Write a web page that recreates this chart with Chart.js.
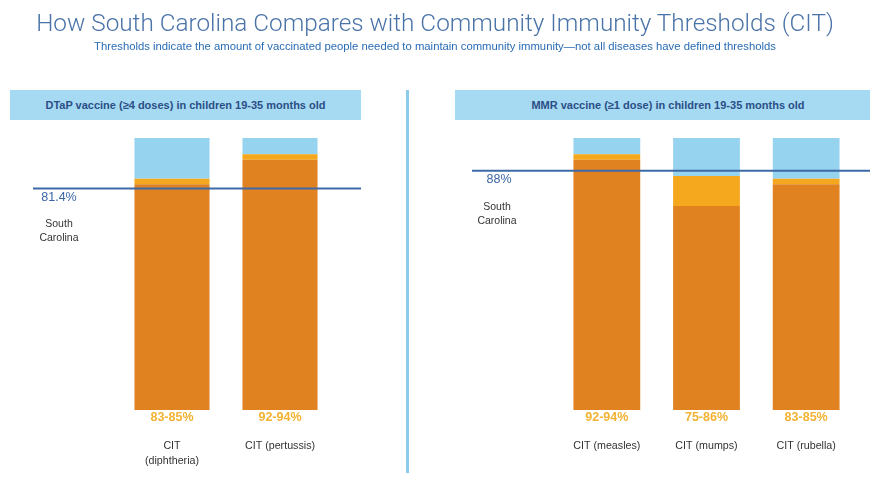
<!DOCTYPE html>
<html>
<head>
<meta charset="utf-8">
<script src="https://cdn.jsdelivr.net/npm/chart.js@4"></script>
<style>
  html, body { margin: 0; padding: 0; background: #ffffff; }
  #wrap { position: relative; width: 870px; height: 479px; overflow: hidden; font-family: "Liberation Sans", Arial, sans-serif; }
  #title { position: absolute; left: 0; top: 8px; width: 870px; text-align: center; font-family: Roboto, sans-serif; font-weight: 300; font-size: 24.3px; color: #4a73a8; }
  #subtitle { position: absolute; left: 0; top: 40px; width: 870px; text-align: center; font-size: 11.3px; color: #2a6cb5; }
  .head { position: absolute; top: 90px; height: 30px; line-height: 30px; background: #a6d9f2; text-align: center; font-weight: bold; font-size: 11px; color: #2b4f86; box-sizing: border-box; }
  #divider { position: absolute; left: 406px; top: 90px; width: 3px; height: 383px; background: #8ccbec; }
  canvas { position: absolute; top: 0; }
</style>
</head>
<body>
<div id="wrap">
  <canvas id="leftChart" style="left:0" width="406" height="479"></canvas>
  <canvas id="rightChart" style="left:409px" width="461" height="479"></canvas>
  <div id="title">How South Carolina Compares with Community Immunity Thresholds (CIT)</div>
  <div id="subtitle">Thresholds indicate the amount of vaccinated people needed to maintain community immunity—not all diseases have defined thresholds</div>
  <div class="head" style="left:10px;width:351px">DTaP vaccine (≥4 doses) in children 19-35 months old</div>
  <div class="head" style="left:455px;width:415px;padding-left:11px">MMR vaccine (≥1 dose) in children 19-35 months old</div>
  <div id="divider"></div>
</div>
<script>
// DTaP panel
const dtapLabels = [["CIT", "(diphtheria)"], ["CIT (pertussis)"]];
const dtapLow = [83, 92];
const dtapHigh = [85, 94];
const dtapState = 81.4;

// MMR panel
const mmrLabels = [["CIT (measles)"], ["CIT (mumps)"], ["CIT (rubella)"]];
const mmrLow = [92, 75, 83];
const mmrHigh = [94, 86, 85];
const mmrState = 88;

const ORANGE = "#e0821f";
const YELLOW = "#f5a81d";
const SKY = "#96d3ef";

Chart.defaults.font.family = "'Liberation Sans', Arial, sans-serif";
Chart.defaults.animation = false;

// threshold line + range labels + category labels
const annotate = {
    id: "annotate",
    afterDatasetsDraw(chart, args, opts) {
        const c = chart.ctx;
        const x = chart.scales.x, y = chart.scales.y;
        const yLine = y.getPixelForValue(opts.state);

        c.save();
        c.strokeStyle = "#3d6aa6";
        c.lineWidth = 2;
        c.beginPath();
        c.moveTo(opts.lineFrom, yLine);
        c.lineTo(opts.lineTo, yLine);
        c.stroke();

        c.textAlign = "center";
        c.textBaseline = "middle";
        c.fillStyle = "#3a66a6";
        c.font = "12.5px 'Liberation Sans', Arial, sans-serif";
        c.fillText(opts.stateText, opts.labelX, yLine + 9);
        c.fillStyle = "#333333";
        c.font = "10.5px 'Liberation Sans', Arial, sans-serif";
        c.fillText("South", opts.nameX, yLine + 36);
        c.fillText("Carolina", opts.nameX, yLine + 50);

        const base = y.getPixelForValue(0);
        opts.low.forEach((lo, i) => {
            const cx = x.getPixelForValue(i);
            c.fillStyle = "#f3b232";
            c.font = "bold 12.5px 'Liberation Sans', Arial, sans-serif";
            c.fillText(lo + "-" + opts.high[i] + "%", cx, base + 8);
            c.fillStyle = "#333333";
            c.font = "10.7px 'Liberation Sans', Arial, sans-serif";
            opts.labels[i].forEach((ln, k) => c.fillText(ln, cx, base + 36 + k * 15));
        });
        c.restore();
    }
};

function makeChart(id, labels, low, high, state, barPct, pad, lineOpts) {
    const mid = high.map((h, i) => h - low[i]);
    const rest = high.map(h => 100 - h);
    return new Chart(document.getElementById(id), {
        type: "bar",
        data: {
            labels: labels.map(l => l.join(" ")),
            datasets: [
                { data: low, backgroundColor: ORANGE },
                { data: mid, backgroundColor: YELLOW },
                { data: rest, backgroundColor: SKY }
            ]
        },
        options: {
            responsive: false,
            layout: { padding: pad },
            datasets: { bar: { categoryPercentage: 1, barPercentage: barPct, borderWidth: 0 } },
            scales: {
                x: { stacked: true, display: false },
                y: { stacked: true, display: false, min: 0, max: 100 }
            },
            plugins: {
                legend: { display: false },
                tooltip: { enabled: false },
                annotate: Object.assign({ state, low, high, labels }, lineOpts)
            }
        },
        plugins: [annotate]
    });
}

makeChart("leftChart", dtapLabels, dtapLow, dtapHigh, dtapState, 0.695,
    { left: 118, right: 72, top: 138, bottom: 69 },
    { lineFrom: 33, lineTo: 361, labelX: 59, nameX: 59, stateText: dtapState + "%" });

makeChart("rightChart", mmrLabels, mmrLow, mmrHigh, mmrState, 0.67,
    { left: 148, right: 14, top: 138, bottom: 69 },
    { lineFrom: 63, lineTo: 461, labelX: 90, nameX: 88, stateText: mmrState + "%" });
</script>
</body>
</html>
